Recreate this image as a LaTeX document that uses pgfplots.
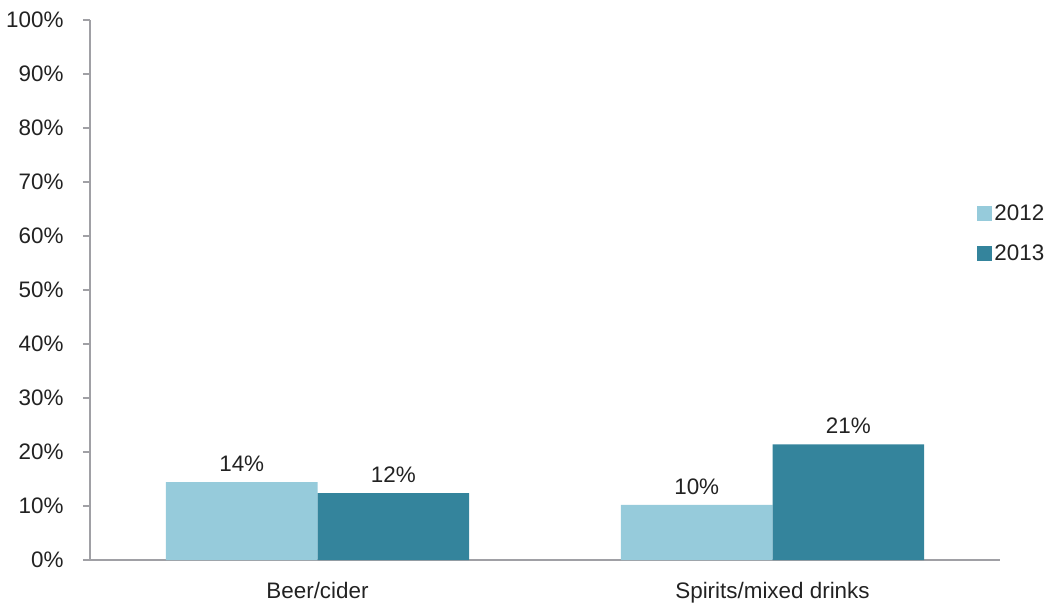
\documentclass[border=0pt]{standalone}
\usepackage{pgfplots}
\pgfplotsset{compat=1.18}
\usepackage{fontspec}
\setmainfont{Liberation Sans}
\definecolor{c2012}{HTML}{96CBDB}
\definecolor{c2013}{HTML}{34849C}
\definecolor{axgray}{HTML}{A0A0A5}
\definecolor{txt}{HTML}{222222}
\newcommand\lblfont{\fontsize{22.5}{26}\selectfont}
\begin{document}
\begin{tikzpicture}
\useasboundingbox (-90bp,-43bp) rectangle (960bp,560bp);
\begin{axis}[
  scale only axis, width=910bp, height=540bp,
  ybar=0pt, bar width=0.333,
  xmin=-0.5, xmax=1.5, ymin=0, ymax=100,
  axis x line*=bottom, axis y line*=left,
  axis line style={draw=axgray, line width=1.3bp},
  every tick/.style={draw=axgray, line width=1.3bp},
  tick align=outside, major tick length=7bp,
  ytick={0,10,...,100},
  yticklabel={\pgfmathprintnumber{\tick}\%},
  /pgf/number format/assume math mode=true,
  xtick={0,1}, xticklabels={Beer/cider, Spirits/mixed drinks},
  x tick style={draw=none},
  extra x ticks={-0.5,0.5,1.5}, extra x tick labels={},
  extra x tick style={tick style={draw=axgray, line width=1.3bp}},
  tick label style={font=\lblfont, text=txt},
  yticklabel style={xshift=-16bp},
  xticklabel style={yshift=-12bp},
  nodes near coords={\pgfmathprintnumber[fixed,precision=0]{\pgfplotspointmeta}\%},
  every node near coord/.append style={font=\lblfont, text=txt, yshift=7bp},
  legend style={at={(0.975,0.604)}, anchor=west, draw=none, fill=none,
    font=\lblfont, text=txt, inner sep=0pt, row sep=19bp,
    /tikz/every even column/.append style={column sep=6bp}},
  legend cell align=left,
  legend image code/.code={\fill[#1] (0bp,-7.5bp) rectangle (15bp,7.5bp);},
]
\addplot[fill=c2012, draw=none] coordinates {(0,14.4) (1,10.2)};
\addplot[fill=c2013, draw=none] coordinates {(0,12.4) (1,21.4)};
\legend{2012,2013}
\end{axis}
\end{tikzpicture}
\end{document}
